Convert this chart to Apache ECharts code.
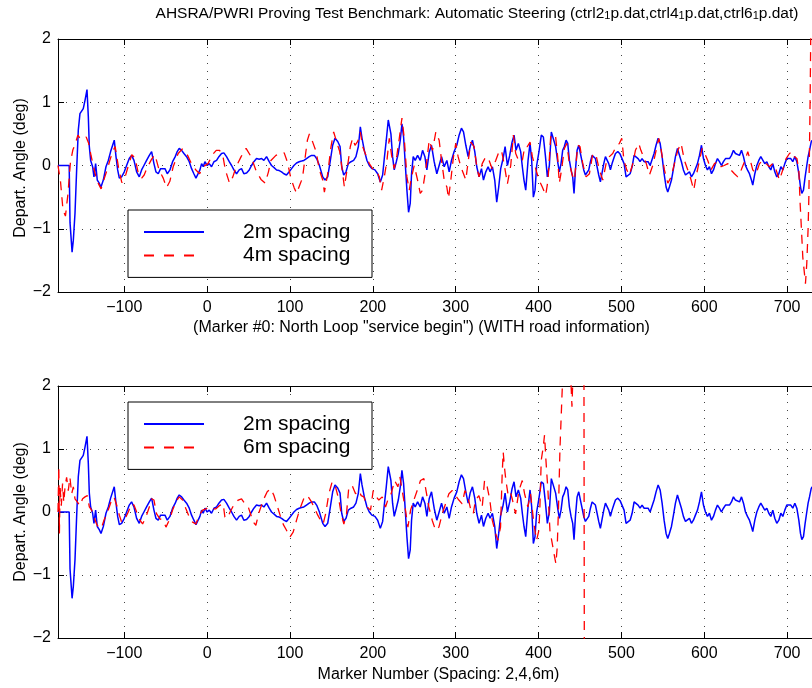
<!DOCTYPE html>
<html><head><meta charset="utf-8">
<script src="https://cdn.jsdelivr.net/npm/echarts@6/dist/echarts.min.js"></script>
<style>html,body{margin:0;padding:0;background:#fff}#c{width:812px;height:688px}</style>
</head><body><div id="c"></div>
<script>
const FONT = '"Liberation Sans", Arial, Helvetica, sans-serif';
const xTicks = [-100, 0, 100, 200, 300, 400, 500, 600, 700];
const yTicks = [-2, -1, 0, 1, 2];
const xRange = [-180, 730];
const yRange = [-2, 2];
const titleText = 'AHSRA/PWRI Proving Test Benchmark: Automatic Steering (ctrl2{s|1}p.dat,ctrl4{s|1}p.dat,ctrl6{s|1}p.dat)';
const yLabel = 'Depart. Angle (deg)';
const xLabelTop = '(Marker #0: North Loop "service begin") (WITH road information)';
const xLabelBottom = 'Marker Number (Spacing: 2,4,6m)';
const legendTop = ['2m spacing', '4m spacing'];
const legendBottom = ['2m spacing', '6m spacing'];

const blue2m = [[-180,0],[-172,0],[-166.5,0],[-165.5,-0.9],[-163,-1.37],[-161.5,-1.18],[-159.5,-0.76],[-157.5,-0.07],[-155.5,0.56],[-153.5,0.82],[-151.5,0.85],[-149.5,0.9],[-147.4,1.03],[-145,1.2],[-143.4,0.77],[-142.2,0.3],[-140.6,0.08],[-138.2,-0.02],[-136.6,-0.18],[-134.6,0.03],[-132.6,-0.23],[-130.2,-0.28],[-128.1,-0.34],[-125.3,-0.23],[-122.1,-0.02],[-119.3,0.08],[-116.5,0.22],[-114.1,0.22],[-112.1,0.4],[-110,0.14],[-108,-0.07],[-106,-0.2],[-103.2,-0.18],[-100,-0.1],[-97.2,0],[-94,0.11],[-91.2,0.16],[-88.3,0.08],[-85.1,-0.1],[-81.9,-0.18],[-79.1,-0.07],[-76.3,0],[-73.1,0.08],[-69.8,0.16],[-67,0.22],[-64.2,0.03],[-61.8,-0.1],[-59,-0.13],[-56.2,-0.05],[-53.8,-0.07],[-50.9,-0.05],[-48.1,-0.13],[-44.9,-0.07],[-41.7,0.06],[-38.5,0.14],[-36.1,0.22],[-33.7,0.27],[-30.8,0.24],[-28,0.19],[-24.8,0.14],[-21.6,0.06],[-18.8,-0.05],[-16,-0.13],[-13.5,-0.2],[-11.1,-0.23],[-8.7,-0.07],[-6.7,0.03],[-4.7,-0.02],[-2.7,0.06],[0,0],[2.5,0.03],[5.3,-0.02],[8.2,0.06],[11.4,0.08],[14.2,0.14],[17.4,0.19],[20.2,0.2],[23.4,0.14],[26.7,0.06],[29.5,0],[32.3,-0.07],[35.5,-0.13],[38.7,-0.07],[41.5,-0.05],[44.3,-0.13],[47.6,-0.12],[50.8,-0.07],[53.6,0],[56.4,0.06],[59.6,0.11],[62.8,0.1],[65.7,0.11],[68.5,0.08],[71.7,0.14],[74.9,0.06],[77.7,0],[80.5,-0.03],[83.8,-0.07],[87,-0.08],[89.8,-0.1],[92.6,-0.13],[95.8,-0.15],[99,-0.1],[101.9,-0.05],[104.7,0],[107.9,0.04],[111.1,0.06],[114,0.07],[116.7,0.08],[119.9,0.11],[123.2,0.14],[126,0.16],[129.4,0.16],[132.5,0.1],[135.5,0],[139.5,-0.18],[142.3,-0.23],[145.5,-0.18],[148.7,0.08],[151.5,0.32],[154.3,0.43],[157.6,0.38],[160.4,0.3],[162.4,-0.02],[164.8,-0.15],[167.6,-0.1],[170.4,0.03],[173.6,0.06],[176.8,0.08],[179.6,0.14],[182.5,0.3],[184.9,0.61],[186.9,0.43],[189.7,0.24],[192.9,0.08],[195.7,0],[199,-0.05],[202.5,-0.07],[205.8,-0.13],[209,-0.26],[211.8,-0.15],[213.8,0.11],[216.2,0.4],[218.6,0.72],[220.2,0.75],[221.8,0.5],[223.8,0.14],[225.8,-0.07],[228.3,0.06],[230.7,0.19],[233.1,0.4],[235.1,0.66],[237.1,0.45],[239.1,0.03],[241.1,-0.39],[243.1,-0.74],[245.1,-0.6],[246.7,-0.13],[248.7,0.14],[251.1,0.08],[254,0.16],[257.2,0.08],[260,0.24],[262.8,0.14],[265.2,-0.07],[268,0.21],[270.8,0.32],[274,0.06],[277.2,-0.13],[280,0],[282.9,0.14],[286.1,-0.02],[289.3,0.08],[292.1,-0.1],[294.9,0.08],[298.1,0.22],[301.3,0.32],[304.1,0.48],[306.9,0.59],[309.4,0.53],[312.2,0.32],[315,0.14],[317.4,0.3],[320.2,0.4],[323,0.22],[325.4,-0.02],[328.2,-0.18],[331.1,-0.05],[333.5,-0.23],[336.3,-0.1],[339.1,-0.02],[341.5,-0.1],[344.3,-0.02],[347.1,-0.23],[349.5,-0.58],[351.9,-0.34],[354.3,-0.05],[357.2,0.11],[359.6,0.3],[362.4,0],[365.2,0.16],[368,0.37],[370.4,0.48],[372.8,0.24],[375.6,0.35],[378.4,0.22],[380.4,-0.02],[382.4,-0.23],[384.5,-0.39],[387.3,0.08],[389.7,0.35],[391.7,0.08],[393.7,-0.5],[395.7,-0.39],[397.7,0],[400.5,0.22],[403.3,0.48],[405.8,0.45],[408.2,0.16],[410.6,-0.18],[413,0],[415.4,0.53],[417.8,0.56],[420.6,0.3],[423.4,0.03],[425.1,-0.1],[427.1,0.03],[429.1,0.24],[431.1,0.3],[433.2,0.4],[435.2,0.35],[437.2,0.08],[439.2,-0.07],[441.2,-0.18],[442.8,-0.44],[444.5,-0.07],[446.5,0.24],[448.5,0.32],[450.5,0.19],[452.5,0.06],[454.5,-0.07],[456.5,-0.15],[458.6,-0.18],[460.6,-0.07],[462.6,0.06],[464.6,0.16],[466.6,0.19],[468.6,0.11],[470.6,-0.02],[472.6,-0.15],[474.6,-0.26],[476.7,-0.23],[478.7,0.03],[480.7,0.14],[482.7,0.11],[484.7,0.03],[486.7,-0.07],[488.7,0.03],[490.7,0.11],[492.8,0.19],[495.6,0.22],[498.4,0.18],[500.8,0.16],[503.2,0.03],[505.6,-0.18],[508,-0.2],[510.5,-0.13],[512.9,-0.02],[515.3,0.16],[517.7,0.19],[520.1,0.11],[522.5,0.06],[524.9,0.11],[527.4,0.06],[529.8,0.08],[532.2,0.06],[534.6,0],[537,0.03],[539.4,0.19],[541.8,0.32],[544.3,0.43],[546.7,0.35],[549.1,0.14],[551.5,-0.13],[553.9,-0.34],[555.9,-0.42],[557.9,-0.34],[560.4,-0.23],[562.8,-0.05],[565.2,0.14],[567.6,0.27],[570,0.27],[572.4,0.06],[574.8,-0.07],[577.3,-0.15],[579.7,-0.18],[582.1,-0.1],[584.5,-0.18],[586.9,-0.13],[589.3,-0.05],[591.8,0.03],[594.2,0.16],[596.6,0.32],[599,0.11],[601.4,0],[603.8,-0.07],[606.2,-0.02],[608.7,-0.13],[611.1,-0.07],[613.5,0.03],[615.9,0.11],[618.3,0.06],[620.7,0],[623.1,0.06],[625.6,0.11],[628,0.14],[630.4,0.11],[632.8,0.16],[635.2,0.24],[637.6,0.19],[640,0.22],[642.5,0.16],[644.9,0.24],[647.3,0.14],[649.7,0],[652.1,-0.07],[654.5,-0.13],[656.9,-0.23],[658.5,-0.31],[661,-0.13],[663.4,0],[665.8,0.08],[668.2,0.14],[670.6,0.11],[673,0.03],[675.5,0.06],[677.9,-0.02],[680.3,-0.07],[682.7,0.03],[685.1,-0.1],[687.5,-0.18],[690,-0.13],[692.4,-0.02],[694.8,-0.07],[697.2,0.03],[699.6,0.11],[702,0.14],[704.4,0.11],[706.8,0.06],[709.3,0.14],[711.7,0.06],[714.1,-0.13],[716.1,-0.34],[717.7,-0.44],[719.7,-0.39],[721.7,-0.18],[723.7,0],[725.3,0.14],[727,0.24],[729,0.37],[730,0.4]];

const red4m = [[-180,0],[-177,-0.25],[-174,-0.7],[-171,-0.8],[-168,-0.45],[-165,0.05],[-162,0.25],[-159,0.35],[-156,0.48],[-153,0.42],[-150,0.42],[-146,0.45],[-143,0.35],[-140,0.15],[-137,-0.03],[-133,-0.24],[-128,-0.37],[-124,-0.2],[-121,-0.08],[-117,0.1],[-114,0.22],[-111,0.3],[-107,-0.03],[-103,-0.27],[-99,-0.18],[-95,0],[-91,0.17],[-87,0.12],[-83,-0.13],[-79,-0.2],[-76,-0.15],[-73,-0.05],[-67,0.1],[-63,0.17],[-58,-0.07],[-53,-0.2],[-49,-0.35],[-45,-0.25],[-41,-0.02],[-35,0.19],[-30,0.26],[-25,0.2],[-19,0.03],[-13,-0.08],[-9,-0.13],[-5,-0.02],[1,0.03],[7,0.18],[11,0.24],[15,0.24],[19,0.15],[22,-0.07],[27,-0.28],[31,-0.18],[35,-0.02],[41,0.14],[47,0.27],[53,0.14],[59,-0.08],[65,-0.22],[70,-0.28],[74,-0.1],[77,0.08],[83,0.16],[89,0.2],[93,0.2],[97,0.05],[101,-0.2],[105,-0.35],[108,-0.44],[112,-0.3],[115,-0.2],[118,0.1],[121,0.4],[123.4,0.5],[127.4,0.37],[131.5,0.22],[135.5,-0.07],[139.5,-0.23],[141.5,-0.42],[145.5,-0.13],[149.5,0.3],[152.7,0.53],[156.8,0.35],[160,0.22],[163.6,-0.13],[165.6,-0.34],[168.8,-0.07],[172.8,0.3],[175.6,0.43],[178.4,0.32],[181.7,0.38],[184.9,0.53],[187.7,0.3],[191.7,0.16],[195.7,0.03],[199.7,-0.05],[203.7,-0.07],[207.8,-0.18],[210.6,-0.39],[213.8,-0.18],[217,0.08],[219.8,0.43],[222.6,0.16],[225.8,-0.05],[229,0.16],[231.9,0.43],[235.1,0.75],[237.9,0.43],[241.1,-0.18],[243.9,-0.39],[246.7,-0.18],[249.9,0],[254,-0.23],[257.2,-0.44],[260,-0.39],[264,-0.05],[268,0.4],[272,0.24],[276,0.53],[280,0.4],[282.9,0.08],[286.1,-0.23],[289.3,-0.34],[291.3,-0.52],[294.1,-0.23],[297.3,0.14],[300.1,0.35],[302.9,0.14],[306.2,-0.02],[309.4,-0.13],[312.2,-0.23],[315,0.06],[318.2,0.37],[322.2,0.3],[325.4,-0.02],[328.2,-0.18],[332,0.03],[336.3,0.14],[340.3,0.08],[344,-0.05],[348.3,0.08],[352.3,0.22],[355.2,0.24],[358.4,0.03],[362.4,-0.29],[366.4,0],[369.6,0.48],[372.4,0.19],[376.4,0.06],[380.4,0.08],[383.3,0.3],[386.5,0.3],[389.7,0.37],[392.5,0.14],[396.5,-0.05],[400.5,-0.23],[404.5,-0.34],[408.6,-0.47],[411.4,-0.23],[414.6,0.45],[417.8,0.5],[420.6,0.45],[423,0.14],[425,-0.28],[427,-0.13],[431.2,0.27],[434,0.35],[437.2,0.03],[441.2,-0.18],[443.3,-0.23],[447.3,0.32],[450,0.3],[453.3,0.03],[457.3,-0.18],[461.4,-0.13],[465.4,0.19],[469.4,0.16],[473.4,-0.07],[477.5,-0.23],[481.5,0.03],[485.5,0.14],[489.5,0.19],[493.6,0.3],[497.6,0.35],[500.4,0.43],[503,0.08],[506.4,-0.07],[509.7,-0.15],[513.7,0.03],[516.9,0.24],[520.9,0.35],[523.5,0.24],[526.6,0.14],[530,0.03],[533.8,-0.15],[537.8,0],[541.9,0.24],[545.1,0.43],[548,0.24],[551.9,-0.07],[556,-0.28],[560,-0.18],[564,0.03],[568,0.24],[572,0.35],[576,0.08],[580.1,-0.07],[584.1,-0.23],[587.3,-0.39],[590,-0.18],[594.2,0.08],[597.4,0.27],[600.5,0.19],[604.2,0.08],[608,-0.07],[612.3,0.03],[616,0.06],[620.3,-0.02],[624,0],[628.4,0.03],[632,-0.07],[636.4,-0.13],[640.4,-0.18],[644.5,-0.07],[648.5,0.06],[652.5,0.22],[655.5,0.08],[658.5,-0.07],[662.5,-0.13],[666.6,0.03],[670.6,0.08],[674.6,0.03],[678.6,-0.02],[682.7,0.03],[686.7,-0.07],[690.7,-0.23],[694.7,-0.07],[698.8,0.11],[702.8,0.19],[706,0.22],[708.8,0.14],[711.8,0.11],[714.1,-0.07],[715.7,-0.6],[717.3,-1.02],[718.9,-1.45],[720.9,-1.71],[722.1,-1.87],[723.7,-1.55],[725.3,-1],[726.2,-0.5],[727,0.3],[727.8,1.1],[728.6,2.2],[730,3.5]];

const red6m = [[-180,0],[-179,0.72],[-178.3,-0.34],[-177.5,0.4],[-176,0.1],[-174.5,0.45],[-173,0.15],[-171.5,0.4],[-169.6,0.55],[-167.6,0.34],[-165.6,0.55],[-163.5,0.29],[-161.5,0.4],[-159.5,0.21],[-156.7,0.16],[-153.5,0.1],[-150.3,0.21],[-147.4,0.24],[-144.6,0.26],[-142.2,0.08],[-139.4,0.03],[-136.6,-0.08],[-133.4,-0.19],[-130.2,-0.26],[-127.3,-0.24],[-124.5,-0.13],[-121.3,-0.03],[-118.1,0.08],[-115.3,0.19],[-112.5,0.24],[-109.2,0.11],[-106,-0.05],[-103.2,-0.16],[-99.2,-0.11],[-95.2,0],[-91.2,0.13],[-88.3,0.11],[-85.1,0],[-81.1,-0.13],[-77.9,-0.19],[-73.9,-0.08],[-69.8,0.08],[-67,0.21],[-64.2,0.19],[-61,-0.03],[-57,-0.11],[-53,-0.13],[-49.7,-0.24],[-45.7,-0.13],[-41.7,0.03],[-37.7,0.16],[-33.7,0.24],[-29.6,0.19],[-25.6,0.05],[-21.6,-0.08],[-17.6,-0.16],[-13.6,-0.19],[-9.5,-0.05],[-5.5,0.03],[-1.5,0.05],[2.5,0.08],[6.6,0.05],[10.6,0.05],[14.6,0.1],[19.4,0.13],[21.4,-0.08],[24.5,-0.1],[27.7,0],[31.7,0.1],[37.5,0.19],[41.5,0.21],[45.5,0.13],[49.6,0.08],[55.6,-0.16],[58.8,-0.21],[62.8,0],[67.7,0.19],[72.5,0.32],[76.5,0.37],[80.4,0.27],[83.8,0.13],[88,-0.05],[92,-0.2],[95.8,-0.29],[99.8,-0.4],[103.8,-0.32],[107.9,-0.13],[111.9,0.05],[118,0.26],[122,0.24],[126,0.16],[130,0.05],[133.5,-0.05],[136.8,-0.13],[140,-0.19],[143,-0.03],[146.9,0.29],[150.9,0.48],[154.9,0.4],[159,0.19],[161.8,-0.03],[165,-0.19],[168.2,-0.03],[171,0.4],[175,0.42],[179.1,0.29],[183.1,0.34],[185.9,0.26],[189.1,0.24],[193.2,0.08],[197.2,0.03],[200.4,0.34],[203.2,0.26],[207.2,0.19],[211.3,0.24],[215.3,0.08],[219.3,0.24],[222.1,0.29],[226.2,0.5],[230.2,0.4],[232.6,0.56],[235.4,0.34],[239.4,0.03],[242.3,-0.24],[245.5,0.03],[249.5,0.19],[253.5,0.34],[257.5,0.5],[261.6,0.53],[264.8,0.29],[267.6,0.08],[271.6,-0.13],[275.7,-0.29],[279.7,-0.24],[283.7,-0.03],[287.7,0.13],[291.8,0.29],[295.8,0.34],[299.8,0.26],[303.8,0.19],[307.8,0.13],[311.1,0.34],[314.7,0.24],[317.9,0.05],[321.1,-0.03],[323.9,0.19],[328,0.26],[332,0.08],[334.8,0.5],[338,0.4],[341.2,0.19],[344.1,-0.13],[348.1,-0.34],[350.9,-0.45],[354.1,-0.24],[356.1,0.61],[357.3,0.95],[359,0.69],[360.6,0.5],[363,0.29],[365.4,0.34],[368.2,0.21],[372.2,-0.03],[376.3,0.34],[380.3,0.5],[383.1,0.29],[387.1,0.08],[390.3,0.29],[394.4,-0.19],[397.6,-0.45],[400.4,-0.29],[401.6,0.08],[403.2,0.82],[405.6,1.03],[407.2,1.22],[408.9,0.82],[411.3,0.34],[413.7,-0.29],[416.5,-0.5],[419.3,-0.71],[420.9,-0.82],[422.5,-0.56],[424.1,0.08],[425.8,1],[428.2,1.83],[430.6,2.6],[434,2.8],[438,2.4],[440.3,1.67],[442.5,2.6],[448,3.5],[454.5,5],[455.5,-5]];

const minus = v => String(v).replace('-', '\u2212');
const txt = (size) => ({fontFamily: FONT, fontSize: size, color: '#000'});
const GRIDS = [{left: 58, top: 39, right: 0, height: 253}, {left: 58, top: 386, right: 0, height: 252}];

function xAxis(gi, pos) {
  const bottom = pos === 'bottom';
  return {
    type: 'value', gridIndex: gi, position: pos, min: xRange[0], max: xRange[1],
    axisLine: {show: true, onZero: false, lineStyle: {color: '#000', width: 1}},
    axisTick: {show: true, inside: true, length: 6, customValues: xTicks, lineStyle: {color: '#000', width: 1}},
    axisLabel: {show: bottom, customValues: xTicks, margin: 8, formatter: minus, ...txt(16)},
    splitLine: {show: bottom, lineStyle: {color: '#444', width: 1, type: [1, 7]}}
  };
}
function yAxis(gi) {
  return {
    type: 'value', gridIndex: gi, min: yRange[0], max: yRange[1], interval: 1,
    axisLine: {show: true, onZero: false, lineStyle: {color: '#000', width: 1}},
    axisTick: {show: true, inside: true, length: 6, lineStyle: {color: '#000', width: 1}},
    axisLabel: {margin: 7, formatter: minus, ...txt(16)},
    splitLine: {show: true, lineStyle: {color: '#444', width: 1, type: [1, 7]}}
  };
}
function legend(top, names) {
  return {
    orient: 'vertical', left: 128, top: top, padding: [11, 17, 11, 15],
    backgroundColor: '#fff', borderColor: '#000', borderWidth: 1, borderRadius: 0,
    itemWidth: 60, itemHeight: 22, itemGap: 1.4,
    itemStyle: {opacity: 0},
    textStyle: {...txt(21), lineHeight: 22, width: 112, padding: [0, 0, 0, 34]},
    data: names.map((n, i) => i === 0 ? {name: n} : {name: n, lineStyle: {type: [10, 10]}}),
    selectedMode: false
  };
}
const blueStyle = {color: '#0000ff', width: 1.5, type: 'solid'};
const redStyle = {color: '#ff0000', width: 1.3, type: [9, 7]};
function line(name, data, gi, style) {
  return {type: 'line', name, data, xAxisIndex: gi * 2, yAxisIndex: gi, showSymbol: false, symbol: 'none',
    lineStyle: style, itemStyle: {color: style.color}, clip: true, animation: false, z: 2};
}

const chart = echarts.init(document.getElementById('c'), null, {renderer: 'canvas'});
chart.setOption({
  backgroundColor: '#fff',
  animation: false,
  grid: GRIDS,
  xAxis: [xAxis(0, 'bottom'), xAxis(0, 'top'), xAxis(1, 'bottom'), xAxis(1, 'top')],
  yAxis: [yAxis(0), yAxis(1)],
  legend: [legend(210, legendTop), legend(402, legendBottom)],
  series: [
    line(legendTop[0], blue2m, 0, blueStyle),
    line(legendTop[1], red4m, 0, redStyle),
    line(legendBottom[0], blue2m, 1, blueStyle),
    line(legendBottom[1], red6m, 1, redStyle)
  ],
  graphic: [
    {type: 'text', x: 477, y: 14, style: {text: titleText, font: '15.5px ' + FONT, fill: '#000', textAlign: 'center', textVerticalAlign: 'middle', align: 'center', verticalAlign: 'middle', lineHeight: 15,
      rich: {s: {fontSize: 11, fontFamily: FONT, lineHeight: 11, padding: [9, 0, 0, 0], verticalAlign: 'bottom'}}}},
    {type: 'text', x: 421.5, y: 328, style: {text: xLabelTop, font: '16px ' + FONT, fill: '#000', textAlign: 'center', textVerticalAlign: 'middle', align: 'center', verticalAlign: 'middle'}},
    {type: 'text', x: 438.5, y: 675, style: {text: xLabelBottom, font: '16px ' + FONT, fill: '#000', textAlign: 'center', textVerticalAlign: 'middle', align: 'center', verticalAlign: 'middle'}},
    {type: 'text', x: 21, y: 168, rotation: Math.PI / 2, style: {text: yLabel, font: '16px ' + FONT, fill: '#000', textAlign: 'center', textVerticalAlign: 'middle', align: 'center', verticalAlign: 'middle'}},
    {type: 'text', x: 21, y: 512, rotation: Math.PI / 2, style: {text: yLabel, font: '16px ' + FONT, fill: '#000', textAlign: 'center', textVerticalAlign: 'middle', align: 'center', verticalAlign: 'middle'}}
  ]
});
</script>
</body></html>
